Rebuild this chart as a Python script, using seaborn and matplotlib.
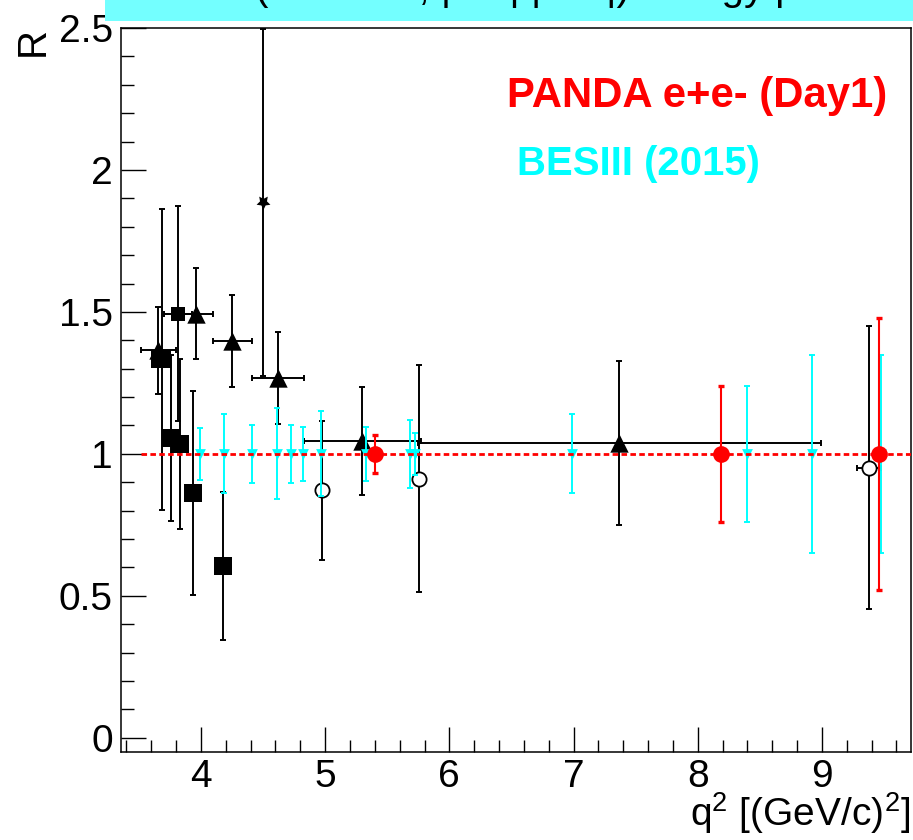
import matplotlib
matplotlib.use("Agg")
import matplotlib.pyplot as plt
from matplotlib.patches import Rectangle
from matplotlib.ticker import MultipleLocator, FixedLocator
import numpy as np
import pandas as pd
import seaborn as sns

# ---------------- data ----------------
# big black squares
sq_x = [3.667, 3.690, 3.758, 3.835, 3.933, 4.175]
sq_y = [1.335, 1.333, 1.057, 1.034, 0.862, 0.604]
sq_yerr = [0.03, 0.53, 0.293, 0.30, 0.36, 0.26]
# small black square
sqs_x = [3.817]
sqs_y = [1.494]
sqs_xerr = [0.114]
sqs_yerr = [0.378]
# black triangles
tri_x = [3.657, 3.962, 4.251, 4.618, 5.300, 7.368]
tri_y = [1.365, 1.493, 1.398, 1.269, 1.044, 1.038]
tri_xerr = [0.142, 0.132, 0.157, 0.210, 0.470, 1.624]
tri_yerr = [0.153, 0.160, 0.161, 0.162, 0.190, 0.290]
# black star
star_x = [4.502]
star_y = [1.886]
star_yerr = [0.611]
# open circles
oc_x = [4.972, 5.755, 9.378]
oc_y = [0.872, 0.912, 0.952]
oc_xerr = [0.0, 0.0, 0.097]
oc_yerr = [0.245, 0.40, 0.497]
# PANDA e+e- (Day1)
panda_x = [5.398, 8.187, 9.461]
panda_y = [1.0, 1.0, 1.0]
panda_yerr = [0.067, 0.24, 0.478]
# BESIII (2015)
bes_x = [3.992, 4.188, 4.408, 4.609, 4.722, 4.824, 4.966, 5.326, 5.683, 5.723,
         6.985, 8.400, 8.922, 9.475]
bes_y = [1.0] * 14
bes_yerr = [0.092, 0.139, 0.102, 0.160, 0.102, 0.096, 0.150, 0.096, 0.119, 0.075,
            0.139, 0.239, 0.349, 0.349]
# reference line R = 1
ref_x = [3.52, 9.72]
ref_y = [1.0, 1.0]

x_ticks = [4, 5, 6, 7, 8, 9]
x_ticklabels = ["4", "5", "6", "7", "8", "9"]
y_ticks = [0, 0.5, 1, 1.5, 2, 2.5]
y_ticklabels = ["0", "0.5", "1", "1.5", "2", "2.5"]

legend_texts = ["PANDA e+e- (Day1)", "BESIII (2015)"]
title_text = "R (time-like, |GE|/|GM|) energy plot"

# ---------------- style ----------------
sns.set_theme(style="ticks")
plt.rcParams["font.family"] = ["Liberation Sans", "DejaVu Sans"]
plt.rcParams["mathtext.fontset"] = "custom"
plt.rcParams["mathtext.rm"] = "Liberation Sans"
plt.rcParams["mathtext.it"] = "Liberation Sans:italic"
plt.rcParams["mathtext.bf"] = "Liberation Sans:bold"
plt.rcParams["mathtext.default"] = "rm"
plt.rcParams["axes.linewidth"] = 1.1
plt.rcParams["axes.edgecolor"] = "black"

W, H = 913, 840
fig = plt.figure(figsize=(W / 100, H / 100), dpi=100)
fig.patch.set_facecolor("white")

def fx(px):
    return px / W

def fy(py):
    return 1 - py / H

ax = fig.add_axes([fx(121), fy(752), fx(911) - fx(121), fy(28) - fy(752)])
ax.set_facecolor("white")

BLACK = "#000000"
CYAN = "#00ffff"
RED = "#ff0000"
eb_kw = dict(fmt="none", elinewidth=1.4, capsize=2.5, capthick=1.4)

# black data: error bars
ax.errorbar(sq_x, sq_y, yerr=sq_yerr, ecolor=BLACK, zorder=3, **eb_kw)
ax.errorbar(sqs_x, sqs_y, yerr=sqs_yerr, xerr=sqs_xerr, ecolor=BLACK, zorder=3, **eb_kw)
ax.errorbar(tri_x, tri_y, yerr=tri_yerr, xerr=tri_xerr, ecolor=BLACK, zorder=3, **eb_kw)
ax.errorbar(star_x, star_y, yerr=star_yerr, ecolor=BLACK, zorder=3, **eb_kw)
ax.errorbar(oc_x, oc_y, yerr=oc_yerr, xerr=oc_xerr, ecolor=BLACK, zorder=3, **eb_kw)

sns.scatterplot(x=sq_x, y=sq_y, marker="s", s=175, color=BLACK, linewidth=0, zorder=4, ax=ax)
sns.scatterplot(x=sqs_x, y=sqs_y, marker="s", s=95, color=BLACK, linewidth=0, zorder=4, ax=ax)
sns.scatterplot(x=tri_x, y=tri_y, marker="^", s=175, color=BLACK, linewidth=0, zorder=4, ax=ax)
sns.scatterplot(x=star_x, y=star_y, marker=(5, 1, 180), s=110, color=BLACK, linewidth=0, zorder=4, ax=ax)
sns.scatterplot(x=oc_x, y=oc_y, marker="o", s=105, facecolor="white", edgecolor=BLACK,
                linewidth=1.3, zorder=5, ax=ax)

# BESIII
ax.errorbar(bes_x, bes_y, yerr=bes_yerr, ecolor=CYAN, zorder=5, **eb_kw)
sns.scatterplot(x=bes_x, y=bes_y, marker="v", s=60, color=CYAN, linewidth=0, zorder=5, ax=ax)

# reference dashed line
sns.lineplot(x=ref_x, y=ref_y, color=RED, linewidth=2.0, linestyle=(0, (2.0, 1.2)),
             zorder=6, ax=ax)

# PANDA
ax.errorbar(panda_x, panda_y, yerr=panda_yerr, ecolor=RED, zorder=7,
            fmt="none", elinewidth=1.5, capsize=2.5, capthick=2.4)
sns.scatterplot(x=panda_x, y=panda_y, marker="o", s=145, color=RED, linewidth=0, zorder=8, ax=ax)

# axes
ax.set_xlim(3.356, 9.717)
ax.set_ylim(-0.05, 2.5)
ax.xaxis.set_major_locator(FixedLocator(x_ticks))
ax.set_xticklabels(x_ticklabels)
ax.yaxis.set_major_locator(FixedLocator(y_ticks))
ax.set_yticklabels(y_ticklabels)
ax.xaxis.set_minor_locator(MultipleLocator(0.2))
ax.yaxis.set_minor_locator(MultipleLocator(0.1))
ax.tick_params(which="both", direction="in", top=False, right=False, color=BLACK, width=1.0)
ax.tick_params(which="major", length=18)
ax.tick_params(which="minor", length=9)
ax.tick_params(axis="x", which="major", labelsize=28, pad=5)
ax.tick_params(axis="y", which="major", labelsize=28, pad=6)
for lab in ax.get_xticklabels() + ax.get_yticklabels():
    lab.set_color("black")
for s in ax.spines.values():
    s.set_visible(True)
    s.set_color(BLACK)
ax.set_xlabel("")
ax.set_ylabel("")
ax.grid(False)

# axis titles
fig.text(fx(910), fy(826), r"q$^{2}$ [(GeV/c)$^{2}$]", ha="right", va="baseline",
         fontsize=28, color="black")
fig.text(fx(52), fy(27), "R", rotation=90, ha="right", va="top", fontsize=29, color="black")

# legend-like labels
fig.text(fx(507), fy(106.7), legend_texts[0], ha="left", va="baseline", fontsize=30.2,
         fontweight="bold", color=RED)
fig.text(fx(517), fy(175), legend_texts[1], ha="left", va="baseline", fontsize=28.9,
         fontweight="bold", color=CYAN)

# cyan title box (cut at the top of the canvas, as in the reference)
fig.patches.append(Rectangle((fx(105), fy(21)), fx(913) - fx(105), fy(0) - fy(21),
                             transform=fig.transFigure, facecolor="#73ffff",
                             edgecolor="none", zorder=10))
fig.text(fx(215), fy(0), title_text, ha="left", va="baseline", fontsize=29,
         color="black", zorder=11)

fig.savefig("out.png", dpi=100, facecolor="white")
